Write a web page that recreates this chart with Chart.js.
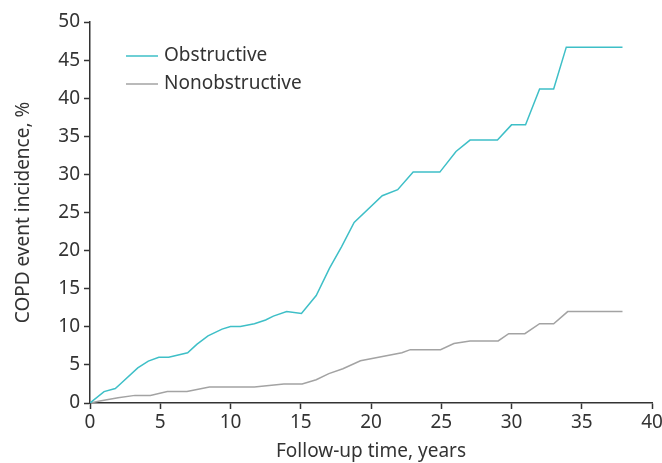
<!DOCTYPE html>
<html>
<head>
<meta charset="utf-8">
<script src="https://cdn.jsdelivr.net/npm/chart.js@4"></script>
<style>
    html, body { margin: 0; padding: 0; background: #fff; }
    #wrap { width: 662px; height: 463px; position: relative; }
</style>
</head>
<body>
<div id="wrap"><canvas id="chart"></canvas></div>
<script>
(function () {
    "use strict";

    // Data (years, %)
    const obstructiveYears = [0, 1.0, 1.8, 2.1, 3.4, 4.15, 4.9, 5.6, 6.95, 7.6, 8.4, 9.4, 10.0, 10.7, 11.7, 12.5, 13.05, 14.0, 15.05, 16.1, 17.05, 17.9, 18.8, 20.8, 21.9, 23.0, 24.9, 26.05, 27.05, 29.0, 30.0, 31.0, 32.0, 33.0, 33.9, 37.9];
    const obstructiveValues = [0, 1.5, 1.9, 2.4, 4.6, 5.5, 6.0, 6.0, 6.6, 7.7, 8.8, 9.7, 10.05, 10.05, 10.4, 10.9, 11.4, 12.0, 11.75, 14.1, 17.7, 20.5, 23.7, 27.2, 28.0, 30.3, 30.3, 33.0, 34.5, 34.5, 36.5, 36.5, 41.2, 41.2, 46.7, 46.7];

    const nonobstructiveYears = [0, 0.7, 2.0, 3.2, 4.3, 5.5, 6.9, 8.5, 11.7, 13.8, 15.1, 16.1, 17.0, 18.0, 19.25, 22.2, 22.8, 24.95, 25.9, 27.05, 29.05, 29.8, 30.95, 32.0, 33.0, 34.0, 37.9];
    const nonobstructiveValues = [0, 0.25, 0.7, 1.0, 1.0, 1.5, 1.5, 2.1, 2.1, 2.5, 2.5, 3.05, 3.85, 4.5, 5.55, 6.6, 7.0, 7.0, 7.8, 8.15, 8.15, 9.1, 9.1, 10.4, 10.4, 12.0, 12.0];

    const seriesLabels = ["Obstructive", "Nonobstructive"];
    const xTitle = "Follow-up time, years";
    const yTitle = "COPD event incidence, %";

    const TEAL = "#3ebfc7";
    const GREY = "#a3a3a3";
    const INK = "#333333";
    const FONT = "'Noto Sans', 'Liberation Sans', sans-serif";
    const FONT_SIZE = 19;

    const toPoints = (xs, ys) => xs.map((x, i) => ({ x, y: ys[i] }));

    // legend drawn inside the plot, top-left
    const insideLegend = {
        id: "insideLegend",
        afterDraw(chart) {
            const ctx = chart.ctx;
            const area = chart.chartArea;
            const x0 = area.left + 36;
            const y0 = area.top + 34;
            ctx.save();
            ctx.font = FONT_SIZE + "px " + FONT;
            ctx.textBaseline = "middle";
            chart.data.datasets.forEach((ds, i) => {
                const y = y0 + i * 28;
                ctx.strokeStyle = ds.borderColor;
                ctx.lineWidth = 1.5;
                ctx.beginPath();
                ctx.moveTo(x0, y);
                ctx.lineTo(x0 + 32, y);
                ctx.stroke();
                ctx.fillStyle = INK;
                ctx.fillText(ds.label, x0 + 38, y);
            });
            ctx.restore();
        },
    };

    const axisCommon = {
        type: "linear",
        grid: {
            drawOnChartArea: false,
            drawTicks: true,
            tickLength: 6,
            tickWidth: 1.5,
            tickColor: INK,
        },
        border: { color: INK, width: 1.5 },
        ticks: {
            color: INK,
            font: { family: FONT, size: FONT_SIZE },
            stepSize: 5,
        },
        title: {
            display: true,
            color: INK,
            font: { family: FONT, size: FONT_SIZE },
        },
    };

    new Chart(document.getElementById("chart"), {
        type: "line",
        data: {
            datasets: [
                {
                    label: seriesLabels[0],
                    data: toPoints(obstructiveYears, obstructiveValues),
                    borderColor: TEAL,
                    borderWidth: 1.5,
                    pointRadius: 0,
                    tension: 0,
                    fill: false,
                },
                {
                    label: seriesLabels[1],
                    data: toPoints(nonobstructiveYears, nonobstructiveValues),
                    borderColor: GREY,
                    borderWidth: 1.5,
                    pointRadius: 0,
                    tension: 0,
                    fill: false,
                },
            ],
        },
        options: {
            responsive: true,
            maintainAspectRatio: false,
            animation: false,
            layout: { padding: { top: 22, right: 0, left: 0, bottom: 0 } },
            plugins: {
                legend: { display: false },
                tooltip: { enabled: false },
            },
            scales: {
                x: {
                    ...axisCommon,
                    min: 0,
                    max: 40,
                    ticks: { ...axisCommon.ticks, padding: 2 },
                    title: { ...axisCommon.title, text: xTitle, padding: { top: 0, bottom: 0 } },
                    afterFit: (scale) => {
                        scale.height = 60;
                        scale.paddingRight = 10;
                    },
                },
                y: {
                    ...axisCommon,
                    min: 0,
                    max: 50,
                    ticks: { ...axisCommon.ticks, padding: 4 },
                    title: { ...axisCommon.title, text: yTitle, padding: { top: 12, bottom: 2 } },
                    afterFit: (scale) => { scale.width = 90; },
                },
            },
        },
        plugins: [insideLegend],
    });
})();
</script>
</body>
</html>
